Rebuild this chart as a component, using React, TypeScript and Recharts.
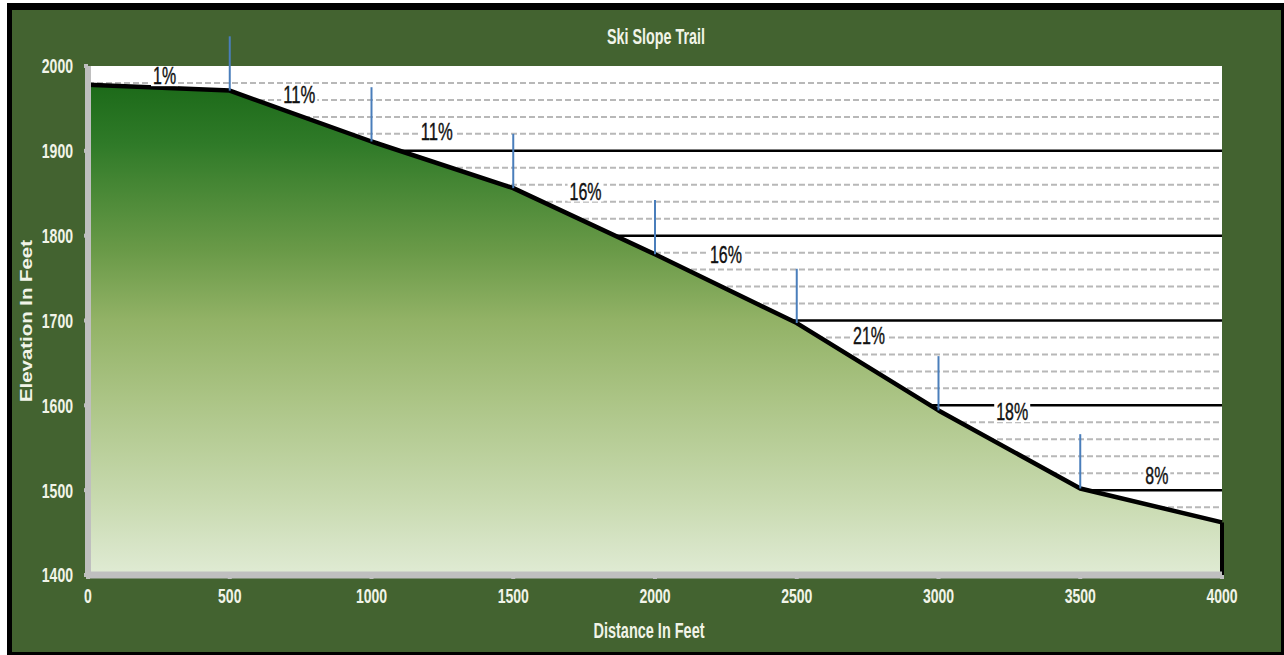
import React from 'react';
import {
  ComposedChart,
  Area,
  XAxis,
  YAxis,
  CartesianGrid,
  Scatter,
  ReferenceLine,
  Customized,
} from 'recharts';

// ---- data ----
const distances = [0, 500, 1000, 1500, 2000, 2500, 3000, 3500, 4000];
const elevations = [1978, 1971, 1911, 1856, 1778, 1697, 1594, 1502, 1462];

const markerDistances = [500, 1000, 1500, 2000, 2500, 3000, 3500];
const markerRise = [64, 64, 64, 64, 64, 64, 64];

const gradeLabels = ['1%', '11%', '11%', '16%', '16%', '21%', '18%', '8%'];
const gradeLabelDist = [270, 745, 1230, 1755, 2250, 2755, 3260, 3770];
const gradeLabelElev = [1988, 1966, 1922, 1852, 1777, 1682, 1592, 1517];

const xTicks = [0, 500, 1000, 1500, 2000, 2500, 3000, 3500, 4000];
const yTicks = [1400, 1500, 1600, 1700, 1800, 1900, 2000];
const majorGrid = [1500, 1600, 1700, 1800, 1900];
const minorGrid = [
  1420, 1440, 1460, 1480, 1520, 1540, 1560, 1580, 1620, 1640, 1660, 1680,
  1720, 1740, 1760, 1780, 1820, 1840, 1860, 1880, 1920, 1940, 1960, 1980,
];

const chartTitle = 'Ski Slope Trail';
const xTitle = 'Distance In Feet';
const yTitle = 'Elevation In Feet';

const terrain = distances.map((d, i) => ({ dist: d, elev: elevations[i] }));
const labelData = gradeLabels.map((t, i) => ({
  dist: gradeLabelDist[i],
  elev: gradeLabelElev[i],
  text: t,
}));

// ---- styles ----
const NARROW = '"Liberation Sans Narrow", "Arial Narrow", "Liberation Sans", Arial, sans-serif';
const WIDE = '"Liberation Sans", Arial, sans-serif';
const TICK_FILL = '#f1f4e8';
const BG_GREEN = '#436330';

const XTick = (p: any) => {
  const s = String(p.payload.value);
  return (
    <text
      x={p.x}
      y={p.y + 15}
      dy="0.35em"
      textAnchor="middle"
      fill={TICK_FILL}
      fontFamily={NARROW}
      fontWeight="bold"
      fontSize={21}
      textLength={s.length * 7.8}
      lengthAdjust="spacingAndGlyphs"
    >
      {s}
    </text>
  );
};

const YTick = (p: any) => {
  const s = String(p.payload.value);
  return (
    <text
      x={p.x - 9}
      y={p.y}
      dy="0.35em"
      textAnchor="end"
      fill={TICK_FILL}
      fontFamily={NARROW}
      fontWeight="bold"
      fontSize={21}
      textLength={s.length * 7.8}
      lengthAdjust="spacingAndGlyphs"
    >
      {s}
    </text>
  );
};

const GradeLabel = (p: any) => {
  const t: string = p.payload.text;
  const digits = t.length - 1;
  const w = digits * 9 + 14;
  return (
    <g>
      <rect x={p.cx - w / 2 - 2} y={p.cy - 10} width={w + 4} height={20} fill="#ffffff" />
      <text
        x={p.cx}
        y={p.cy}
        dy="0.36em"
        textAnchor="middle"
        fill="#111111"
        stroke="#111111"
        strokeWidth={0.4}
        fontFamily={NARROW}
        fontSize={23}
        textLength={w}
        lengthAdjust="spacingAndGlyphs"
      >
        {t}
      </text>
    </g>
  );
};

const Titles = () => (
  <g>
    <text
      x={656}
      y={36}
      dy="0.35em"
      textAnchor="middle"
      fill={TICK_FILL}
      fontFamily={NARROW}
      fontWeight="bold"
      fontSize={22}
      textLength={98}
      lengthAdjust="spacingAndGlyphs"
    >
      {chartTitle}
    </text>
    <text
      x={649}
      y={630}
      dy="0.35em"
      textAnchor="middle"
      fill={TICK_FILL}
      fontFamily={NARROW}
      fontWeight="bold"
      fontSize={22}
      textLength={111}
      lengthAdjust="spacingAndGlyphs"
    >
      {xTitle}
    </text>
    <text
      x={0}
      y={0}
      dy="0.35em"
      textAnchor="middle"
      transform="translate(26,321) rotate(-90)"
      fill={TICK_FILL}
      fontFamily={WIDE}
      fontWeight="bold"
      fontSize={16.5}
      textLength={162}
      lengthAdjust="spacingAndGlyphs"
    >
      {yTitle}
    </text>
  </g>
);

export default function App() {
  return (
    <div
      style={{
        position: 'absolute',
        left: 0,
        top: 0,
        width: 1284,
        height: 655,
        background: '#ffffff',
        overflow: 'hidden',
      }}
    >
      <div
        style={{
          position: 'absolute',
          left: 7,
          top: 3,
          width: 1277,
          height: 652,
          boxSizing: 'border-box',
          borderStyle: 'solid',
          borderColor: '#000000',
          borderWidth: '7px 3px 3px 5px',
          background: BG_GREEN,
        }}
      />
      <div style={{ position: 'absolute', left: 0, top: 0 }}>
        <ComposedChart
          width={1284}
          height={655}
          data={terrain}
          margin={{ top: 66, right: 62, bottom: 50, left: 8 }}
        >
          <defs>
            <linearGradient id="slopeFill" x1="0" y1="0" x2="0" y2="1">
              <stop offset="0%" stopColor="#1c6a19" />
              <stop offset="12%" stopColor="#2f7a28" />
              <stop offset="34%" stopColor="#6a9a48" />
              <stop offset="48%" stopColor="#92b266" />
              <stop offset="64%" stopColor="#abc485" />
              <stop offset="84%" stopColor="#c7d9ae" />
              <stop offset="100%" stopColor="#e0ebd4" />
            </linearGradient>
          </defs>
          <CartesianGrid
            vertical={false}
            horizontalValues={minorGrid}
            stroke="#b8b8b8"
            strokeWidth={2}
            strokeDasharray="6 3"
            fill="#ffffff"
            fillOpacity={1}
          />
          <CartesianGrid
            vertical={false}
            horizontalValues={majorGrid}
            stroke="#000000"
            strokeWidth={2.5}
          />
          <XAxis
            type="number"
            dataKey="dist"
            domain={[xTicks[0], xTicks[xTicks.length - 1]]}
            ticks={xTicks}
            interval={0}
            height={30}
            axisLine={{ stroke: '#bfbfbf', strokeWidth: 7 }}
            tickLine={{ stroke: '#bfbfbf', strokeWidth: 4 }}
            tickSize={4}
            tick={<XTick />}
          />
          <YAxis
            type="number"
            dataKey="elev"
            domain={[yTicks[0], yTicks[yTicks.length - 1]]}
            ticks={yTicks}
            interval={0}
            width={80}
            axisLine={{ stroke: '#bfbfbf', strokeWidth: 6 }}
            tickLine={{ stroke: '#bfbfbf', strokeWidth: 4 }}
            tickSize={4}
            tick={<YTick />}
          />
          <Area
            type="linear"
            dataKey="elev"
            stroke="#000000"
            strokeWidth={4.5}
            strokeLinejoin="round"
            fill="url(#slopeFill)"
            fillOpacity={1}
            baseValue="dataMin"
            dot={false}
            activeDot={false}
            isAnimationActive={false}
          />
          <ReferenceLine
            segment={[
              { x: distances[distances.length - 1], y: yTicks[0] },
              { x: distances[distances.length - 1], y: elevations[elevations.length - 1] },
            ]}
            stroke="#000000"
            strokeWidth={4}
            ifOverflow="visible"
          />
          {markerDistances.map((d, i) => {
            const base = elevations[distances.indexOf(d)];
            return (
              <ReferenceLine
                key={'m' + d}
                segment={[
                  { x: d, y: base },
                  { x: d, y: base + markerRise[i] },
                ]}
                stroke="#4a7ebb"
                strokeWidth={2}
                ifOverflow="visible"
              />
            );
          })}
          <Scatter
            data={labelData}
            dataKey="elev"
            shape={<GradeLabel />}
            isAnimationActive={false}
          />
          <Customized component={<Titles />} />
        </ComposedChart>
      </div>
    </div>
  );
}
